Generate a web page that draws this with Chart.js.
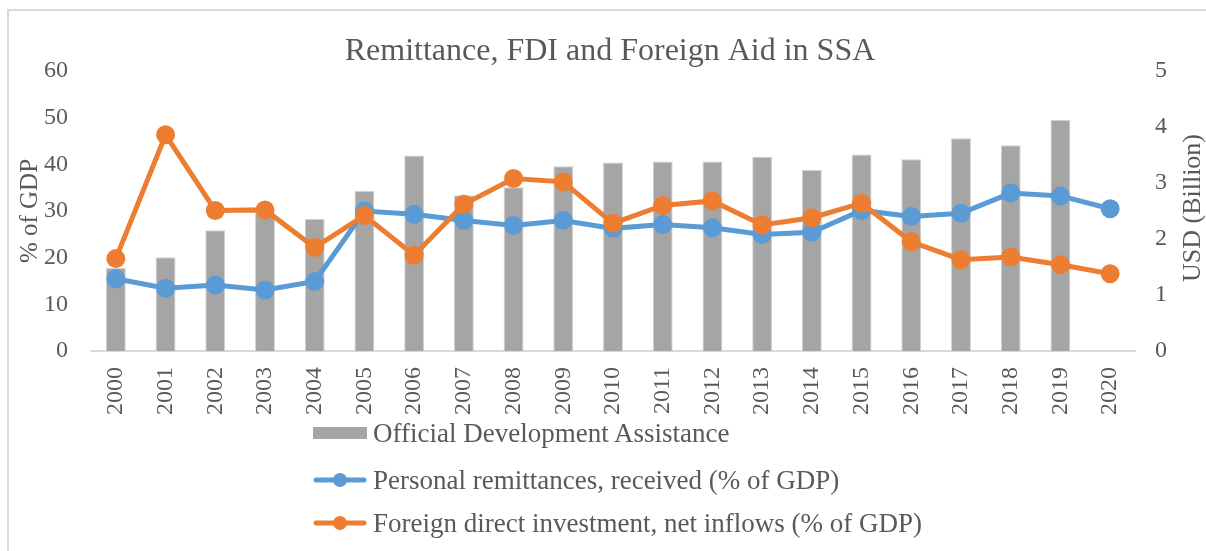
<!DOCTYPE html>
<html>
<head>
<meta charset="utf-8">
<script src="https://cdn.jsdelivr.net/npm/chart.js@4.4.0/dist/chart.umd.min.js"></script>
<style>
  html, body { margin: 0; padding: 0; background: #ffffff; }
  body { width: 1206px; height: 551px; position: relative; overflow: hidden; }
  #frame { position: absolute; left: 7px; top: 9px; width: 1300px; height: 700px;
           border-top: 2px solid #d9d9d9; border-left: 2px solid #d9d9d9; }
  #wrap { position: absolute; left: 0; top: 0; width: 1206px; height: 551px; }
  #legend { position: absolute; left: 313px; top: 0; font-family: "Liberation Serif", "Times New Roman", serif;
            font-size: 27px; color: #595959; }
  .item { position: absolute; left: 0; white-space: nowrap; height: 32px; line-height: 32px; display: flex; align-items: center; }
  .item svg { flex: none; margin-right: 6px; }
</style>
</head>
<body>
<div id="frame"></div>
<div id="wrap"><canvas id="c" width="1206" height="551"></canvas></div>
<div id="legend"></div>
<script>
const years = ['2000','2001','2002','2003','2004','2005','2006','2007','2008','2009','2010',
               '2011','2012','2013','2014','2015','2016','2017','2018','2019','2020'];
const odaValues = [17.8, 20.1, 25.9, 29.5, 28.3, 34.3, 41.9, 33.4, 35.1, 39.6, 40.4,
                   40.6, 40.6, 41.6, 38.8, 42.1, 41.1, 45.6, 44.1, 49.5, null];
const remittanceValues = [1.29, 1.12, 1.18, 1.09, 1.24, 2.50, 2.44, 2.33, 2.24, 2.33, 2.19,
                          2.26, 2.20, 2.08, 2.12, 2.51, 2.40, 2.46, 2.82, 2.77, 2.54];
const fdiValues = [1.65, 3.86, 2.51, 2.52, 1.85, 2.42, 1.71, 2.62, 3.08, 3.02, 2.28,
                   2.60, 2.68, 2.25, 2.38, 2.64, 1.95, 1.63, 1.68, 1.54, 1.38];
const leftTicks = [0, 10, 20, 30, 40, 50, 60];
const rightTicks = [0, 1, 2, 3, 4, 5];
const chartTitle = 'Remittance, FDI and Foreign Aid in SSA';
const leftTitle = '% of GDP';
const rightTitle = 'USD (Billion)';
const seriesNames = ['Official Development Assistance',
                     'Personal remittances, received (% of GDP)',
                     'Foreign direct investment, net inflows (% of GDP)'];

const FONT = '"Liberation Serif", "Times New Roman", serif';
const TXT = '#595959';
const GRAY = '#a5a5a5', BLUE = '#5b9bd5', ORANGE = '#ed7d31';

const rightTitlePlugin = {
  id: 'rightTitle',
  afterDraw(chart) {
    const ctx = chart.ctx, a = chart.chartArea;
    ctx.save();
    ctx.font = '26px ' + FONT;
    ctx.fillStyle = TXT;
    ctx.textAlign = 'center';
    ctx.textBaseline = 'middle';
    ctx.translate(1193, (a.top + a.bottom) / 2 - 3);
    ctx.rotate(-Math.PI / 2);
    ctx.fillText(rightTitle, 0, 0);
    ctx.restore();
  }
};

const chart = new Chart(document.getElementById('c'), {
  data: {
    labels: years,
    datasets: [
      { type: 'bar', label: seriesNames[0], data: odaValues, yAxisID: 'y',
        backgroundColor: GRAY, borderColor: '#d0d0d0', borderWidth: 1,
        barPercentage: 0.8, categoryPercentage: 0.5, order: 2 },
      { type: 'line', label: seriesNames[1], data: remittanceValues, yAxisID: 'y1',
        borderColor: BLUE, backgroundColor: BLUE, borderWidth: 5, tension: 0,
        pointRadius: 7, pointHoverRadius: 7, pointBackgroundColor: BLUE, pointBorderColor: BLUE, order: 1 },
      { type: 'line', label: seriesNames[2], data: fdiValues, yAxisID: 'y1',
        borderColor: ORANGE, backgroundColor: ORANGE, borderWidth: 5, tension: 0,
        pointRadius: 7, pointHoverRadius: 7, pointBackgroundColor: ORANGE, pointBorderColor: ORANGE, order: 0 }
    ]
  },
  options: {
    responsive: false,
    animation: false,
    events: [],
    layout: { padding: { left: 14, right: 0, top: 0, bottom: 125 } },
    plugins: {
      legend: { display: false },
      tooltip: { enabled: false },
      title: { display: true, text: chartTitle, color: TXT,
               font: { family: FONT, size: 32, weight: 'normal', lineHeight: 1.2 },
               padding: { top: 32, bottom: 0.6 } }
    },
    scales: {
      x: {
        type: 'category', offset: true,
        grid: { display: false, drawTicks: false },
        border: { display: true, color: '#d9d9d9', width: 2 },
        ticks: { color: TXT, font: { family: FONT, size: 24 }, minRotation: 90, maxRotation: 90,
                 autoSkip: false, padding: 16 },
        afterFit(s) { s.height = 75; }
      },
      y: {
        position: 'left', min: 0, max: 60,
        grid: { display: false, drawTicks: false },
        border: { display: false },
        afterBuildTicks(s) { s.ticks = leftTicks.map(v => ({ value: v })); },
        ticks: { color: TXT, font: { family: FONT, size: 24 }, padding: 23 },
        title: { display: true, text: leftTitle, color: TXT, font: { family: FONT, size: 25 },
                 padding: { top: 1, bottom: 0 } },
        afterFit(s) { s.width = 77; }
      },
      y1: {
        position: 'right', min: 0, max: 5,
        grid: { display: false, drawTicks: false },
        border: { display: false },
        afterBuildTicks(s) { s.ticks = rightTicks.map(v => ({ value: v })); },
        ticks: { color: TXT, font: { family: FONT, size: 24 }, padding: 20 },
        afterFit(s) { s.width = 71; }
      }
    }
  },
  plugins: [rightTitlePlugin]
});

// HTML legend built from the chart's datasets
const legendEl = document.getElementById('legend');
const rowCenters = [433, 480, 523];
chart.data.datasets.forEach((ds, i) => {
  const item = document.createElement('div');
  item.className = 'item';
  item.style.top = (rowCenters[i] - 16) + 'px';
  let svg;
  if (ds.type === 'bar') {
    svg = '<svg width="54" height="32"><rect x="0" y="10" width="54" height="12" fill="' + ds.backgroundColor + '"/></svg>';
  } else {
    svg = '<svg width="54" height="32"><line x1="3" y1="16" x2="51" y2="16" stroke="' + ds.borderColor +
          '" stroke-width="5" stroke-linecap="round"/><circle cx="27" cy="16" r="7" fill="' + ds.borderColor + '"/></svg>';
  }
  item.innerHTML = svg + '<span>' + ds.label + '</span>';
  legendEl.appendChild(item);
});
</script>
</body>
</html>
